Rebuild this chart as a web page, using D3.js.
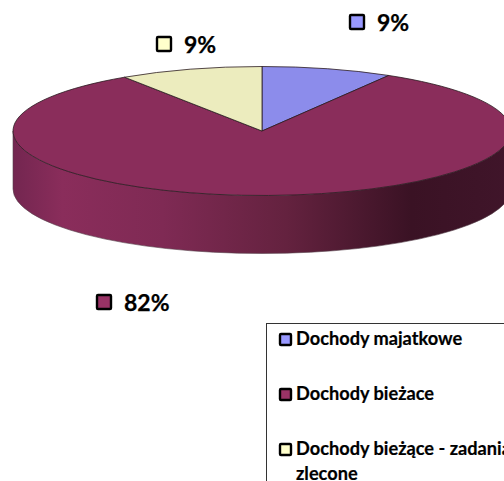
<!DOCTYPE html>
<meta charset="utf-8">
<html>
<head>
	<!-- Load d3.js -->
	<script src="https://d3js.org/d3.v7.min.js"></script>
	<style>
		html, body { margin: 0; padding: 0; background: #fff; overflow: hidden; }
		svg { display: block; font-family: Lato, "Open Sans", sans-serif; font-weight: 700; }
	</style>
</head>
<body>
<div id="chart"></div>

<script>

var categories = ["Dochody majatkowe", "Dochody bieżace", "Dochody bieżące - zadania zlecone"];
var values = [8.5, 82.2, 9.3];
var markerColors = ["#9999ff", "#993366", "#ffffcc"];
var topColors = ["#8c8ceb", "#8a2d5b", "#ececbe"];

var width = 504, height = 481;
var cx = 262, cy = 131, rx = 249, ry = 64.5, depth = 58;

var svg = d3.select("#chart").append("svg")
	.attr("width", width)
	.attr("height", height);

// side wall shading
var grad = svg.append("defs").append("linearGradient")
	.attr("id", "wall")
	.attr("gradientUnits", "userSpaceOnUse")
	.attr("x1", cx - rx).attr("x2", cx + rx)
	.attr("y1", 0).attr("y2", 0);
grad.append("stop").attr("offset", 0).attr("stop-color", "#732650");
grad.append("stop").attr("offset", 0.1).attr("stop-color", "#8a2d5b");
grad.append("stop").attr("offset", 0.3).attr("stop-color", "#7f2a54");
grad.append("stop").attr("offset", 0.55).attr("stop-color", "#64223f");
grad.append("stop").attr("offset", 0.8).attr("stop-color", "#3a1224");
grad.append("stop").attr("offset", 1).attr("stop-color", "#40152a");

svg.append("path")
	.attr("d", "M" + (cx - rx) + "," + cy +
		"A" + rx + "," + ry + " 0 0 0 " + (cx + rx) + "," + cy +
		"v" + depth +
		"A" + rx + "," + ry + " 0 0 1 " + (cx - rx) + "," + (cy + depth) + "Z")
	.attr("fill", "url(#wall)")
	.attr("stroke", "#55404a")
	.attr("stroke-width", 0.6);

// pie top, drawn on a unit circle and squashed to the ellipse
var pie = d3.pie().sort(null);
var arc = d3.arc().innerRadius(0).outerRadius(1);

svg.append("g")
	.attr("transform", "translate(" + cx + "," + cy + ") scale(" + rx + "," + ry + ")")
	.selectAll("path")
	.data(pie(values))
	.enter().append("path")
	.attr("d", arc)
	.attr("fill", function(d, i) { return topColors[i]; })
	.attr("stroke", "#2a1a20")
	.attr("stroke-width", 0.8)
	.attr("vector-effect", "non-scaling-stroke");

// data labels
var labelPos = [[349, 14], [96, 294], [156, 36]];

var labels = svg.selectAll("g.label")
	.data(values)
	.enter().append("g")
	.attr("class", "label")
	.attr("transform", function(d, i) { return "translate(" + labelPos[i][0] + "," + labelPos[i][1] + ")"; });

labels.append("rect")
	.attr("x", 1).attr("y", 1)
	.attr("width", 14).attr("height", 14)
	.attr("rx", 1)
	.attr("fill", function(d, i) { return markerColors[i]; })
	.attr("stroke", "#000")
	.attr("stroke-width", 2.4);

labels.append("text")
	.attr("x", 28)
	.attr("y", 17)
	.attr("font-size", 23)
	.attr("stroke", "#000")
	.attr("stroke-width", 0.25)
	.text(function(d) { return Math.round(d) + "%"; });

// legend
var legendX = 266.5, legendY = 323.5;

svg.append("rect")
	.attr("x", legendX).attr("y", legendY)
	.attr("width", 260).attr("height", 190)
	.attr("fill", "#fff")
	.attr("stroke", "#333")
	.attr("stroke-width", 1);

var legendRowY = [333, 388, 443];

var rows = svg.selectAll("g.legend")
	.data(categories)
	.enter().append("g")
	.attr("class", "legend")
	.attr("transform", function(d, i) { return "translate(279," + legendRowY[i] + ")"; });

rows.append("rect")
	.attr("x", 1).attr("y", 1)
	.attr("width", 11).attr("height", 11)
	.attr("rx", 1)
	.attr("fill", function(d, i) { return markerColors[i]; })
	.attr("stroke", "#000")
	.attr("stroke-width", 2.4);

// long name wraps onto a second line
rows.each(function(d) {
	var words = d.split(" - ");
	var g = d3.select(this);
	var first = words.length > 1 ? d.replace(" zlecone", "") : d;
	g.append("text").attr("x", 17).attr("y", 12).attr("font-size", 18.2).attr("stroke", "#000").attr("stroke-width", 0.2).text(first);
	if (words.length > 1) {
		g.append("text").attr("x", 17).attr("y", 36.5).attr("font-size", 18.2).attr("stroke", "#000").attr("stroke-width", 0.2).text("zlecone");
	}
});

</script>

</body>
</html>
